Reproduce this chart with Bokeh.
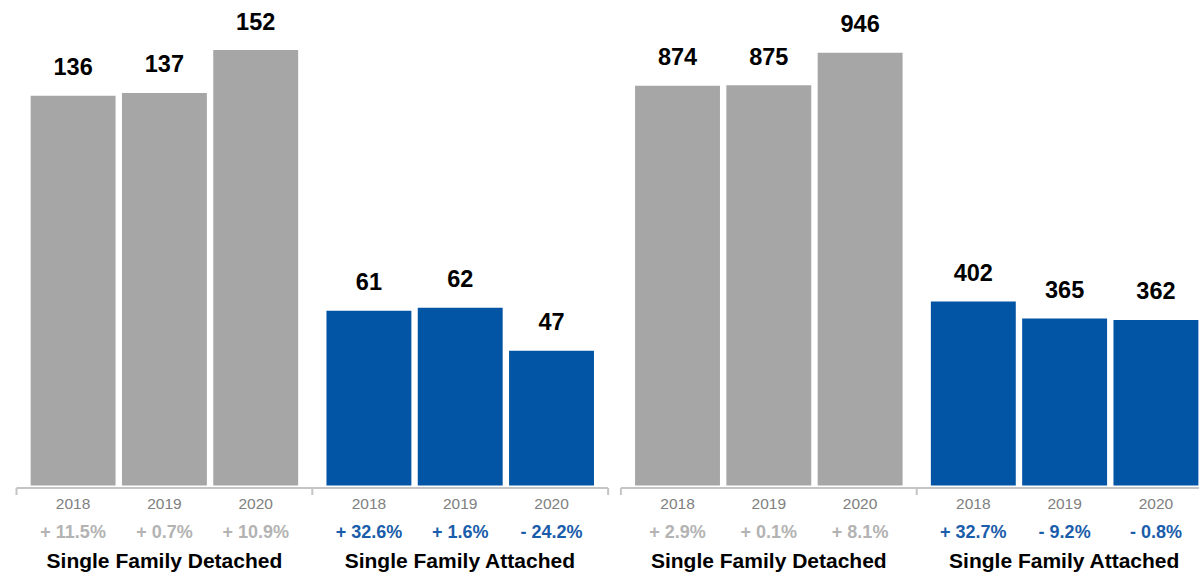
from bokeh.plotting import figure
from bokeh.models import Range1d, ColumnDataSource
from bokeh.embed import file_html
from bokeh.resources import INLINE
from bokeh.core.properties import value

# ---------------- data ----------------
years = ["2018", "2019", "2020"]
groups = ["Single Family Detached", "Single Family Attached"]

left_detached = [136, 137, 152]
left_attached = [61, 62, 47]
left_detached_pct = ["+ 11.5%", "+ 0.7%", "+ 10.9%"]
left_attached_pct = ["+ 32.6%", "+ 1.6%", "- 24.2%"]

right_detached = [874, 875, 946]
right_attached = [402, 365, 362]
right_detached_pct = ["+ 2.9%", "+ 0.1%", "+ 8.1%"]
right_attached_pct = ["+ 32.7%", "- 9.2%", "- 0.8%"]

# ---------------- layout / style ----------------
W, H = 1199, 574
PX_UNIT = 91.3          # pixels per bar slot
BASE_PX = 485           # pixel row (from top) of the bar baseline
AXIS_START_PX = 16
GROUP_GAP = 0.24
EDGE = 0.12
PANEL_OFFSET = 6.62
BAR_W = 0.93
L_SCALE = 2.865         # px per value unit, left panel
R_SCALE = 0.4575        # px per value unit, right panel

GRAY = "#A6A6A6"
BLUE = "#0254A4"
GRAY_PCT = "#B3B3B3"
BLUE_PCT = "#1A5DAA"
YEAR_COL = "#808080"
AXIS_COL = "#C4C4C4"
FONT = value("Liberation Sans")

x_start = -EDGE - AXIS_START_PX / PX_UNIT
x_end = x_start + W / PX_UNIT

p = figure(width=W, height=H,
           x_range=Range1d(x_start, x_end),
           y_range=Range1d(-(H - BASE_PX) / L_SCALE, BASE_PX / L_SCALE),
           output_backend="svg", toolbar_location=None,
           x_axis_location=None, y_axis_location=None,
           min_border=0, outline_line_color=None)
p.extra_y_ranges = {"right": Range1d(-(H - BASE_PX) / R_SCALE, BASE_PX / R_SCALE)}
p.xgrid.visible = False
p.ygrid.visible = False
p.background_fill_color = "white"
p.border_fill_color = "white"

panels = [
    ("default", L_SCALE, [left_detached, left_attached], [left_detached_pct, left_attached_pct]),
    ("right", R_SCALE, [right_detached, right_attached], [right_detached_pct, right_attached_pct]),
]

for pi, (rname, scale, series, pcts) in enumerate(panels):
    off = pi * PANEL_OFFSET
    xs, tops, cols, yrs, pct_txt, pct_cols, vals = [], [], [], [], [], [], []
    gx, gl = [], []
    for gi, (vals_g, pct_g) in enumerate(zip(series, pcts)):
        g0 = off + gi * (3 + GROUP_GAP)
        gx.append(g0 + 1.5)
        gl.append(groups[gi])
        for i, yr in enumerate(years):
            xs.append(g0 + i + 0.5)
            tops.append(vals_g[i])
            vals.append(str(vals_g[i]))
            cols.append(GRAY if gi == 0 else BLUE)
            yrs.append(yr)
            pct_txt.append(pct_g[i])
            pct_cols.append(GRAY_PCT if gi == 0 else BLUE_PCT)
    src = ColumnDataSource(dict(x=xs, top=tops, color=cols, year=yrs,
                                pct=pct_txt, pct_color=pct_cols, val=vals,
                                zero=[0] * len(xs)))
    p.vbar(x="x", top="top", bottom=0, width=BAR_W, fill_color="color",
           line_color=None, source=src, y_range_name=rname)
    # value labels
    p.text(x="x", y="top", text="val", source=src, y_range_name=rname,
           y_offset=-29, text_align="center", text_baseline="middle",
           text_font=FONT, text_font_style="bold", text_font_size=value("23.5px"),
           text_color="black")
    # year labels
    p.text(x="x", y="zero", text="year", source=src, y_range_name=rname,
           y_offset=18, text_align="center", text_baseline="middle",
           text_font=FONT, text_font_size=value("15.5px"), text_color=YEAR_COL)
    # percent labels
    p.text(x="x", y="zero", text="pct", source=src, y_range_name=rname,
           y_offset=46, text_align="center", text_baseline="middle",
           text_font=FONT, text_font_style="bold", text_font_size=value("18px"),
           text_color="pct_color")
    # group labels
    gsrc = ColumnDataSource(dict(x=gx, label=gl, zero=[0] * len(gx)))
    p.text(x="x", y="zero", text="label", source=gsrc, y_range_name=rname,
           y_offset=75, text_align="center", text_baseline="middle",
           text_font=FONT, text_font_style="bold", text_font_size=value("21px"),
           text_color="black")
    # axis line and boundary ticks
    a0 = off - EDGE
    a1 = off + 6 + GROUP_GAP + EDGE
    amid = off + 3 + GROUP_GAP / 2
    ya = -2.5 / scale
    yt = -9.5 / scale
    p.segment(x0=[a0], y0=[ya], x1=[a1], y1=[ya], line_color=AXIS_COL,
              line_width=2, y_range_name=rname)
    p.segment(x0=[a0, amid, a1], y0=[ya] * 3, x1=[a0, amid, a1], y1=[yt] * 3,
              line_color=AXIS_COL, line_width=2, y_range_name=rname)

open("out.html", "w").write(file_html(p, INLINE))
